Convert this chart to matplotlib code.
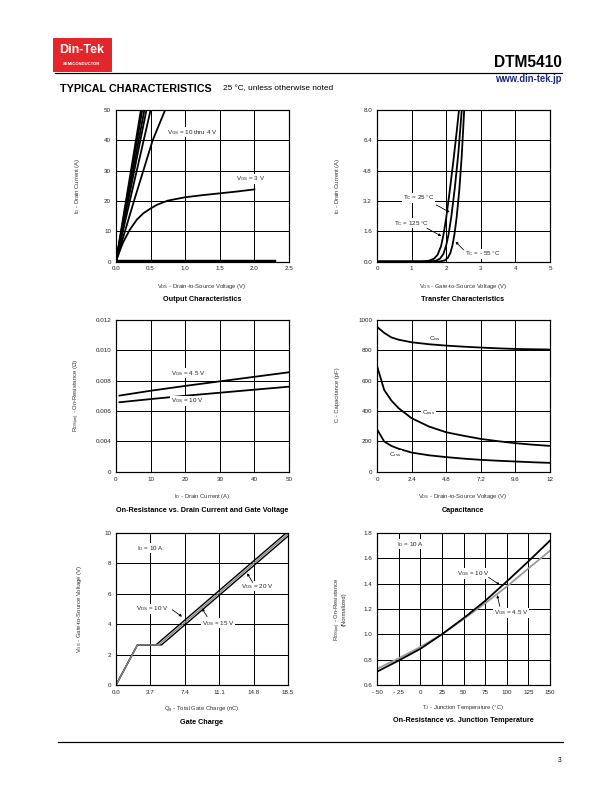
import numpy as np
import matplotlib
matplotlib.use('Agg')
import matplotlib.pyplot as plt
from matplotlib.patches import Rectangle
from matplotlib.lines import Line2D

plt.rcParams['font.family'] = ['Liberation Sans', 'DejaVu Sans']
plt.rcParams['mathtext.fontset'] = 'custom'
plt.rcParams['mathtext.rm'] = 'Liberation Sans'
plt.rcParams['mathtext.it'] = 'Liberation Sans:italic'
plt.rcParams['mathtext.bf'] = 'Liberation Sans:bold'

# Output characteristics
out_steep_vds = [0.36, 0.38, 0.41, 0.44, 0.50]   # V at which each line hits 50 A
out_steep_id = [0, 50]
out_4v_vds = [0, 0.26, 0.53, 0.71]
out_4v_id = [0, 20, 40, 50]
out_3v_vds = [0, 0.05, 0.1, 0.2, 0.3, 0.4, 0.5, 0.6, 0.75, 1.0, 1.25, 1.5, 1.75, 2.0]
out_3v_id = [0, 3.2, 6.2, 10.5, 13.8, 16.0, 17.5, 18.8, 20.1, 21.2, 21.9, 22.5, 23.1, 23.8]
out_2v_vds = [0, 2.3]
out_2v_id = [0.3, 0.3]

# Transfer characteristics
tr_125_vgs = [0, 1.3, 1.5, 1.65, 1.75, 1.85, 1.92, 2.0, 2.1, 2.2, 2.3, 2.37]
tr_125_id = [0, 0, 0.04, 0.15, 0.35, 0.8, 1.4, 2.3, 3.7, 5.2, 6.8, 8.0]
tr_25_vgs = [0, 1.55, 1.7, 1.82, 1.92, 2.0, 2.07, 2.15, 2.25, 2.35, 2.45]
tr_25_id = [0, 0, 0.04, 0.15, 0.4, 0.85, 1.45, 2.4, 3.9, 5.7, 8.0]
tr_m55_vgs = [0, 1.8, 1.95, 2.05, 2.12, 2.18, 2.24, 2.3, 2.38, 2.45, 2.52]
tr_m55_id = [0, 0, 0.05, 0.2, 0.45, 0.85, 1.45, 2.3, 3.8, 5.6, 8.0]

# On-resistance vs drain current
ron_id = [1, 10, 20, 30, 40, 50]
ron_45v = [0.00701, 0.00733, 0.00765, 0.00795, 0.00825, 0.00855]
ron_10v = [0.00657, 0.00678, 0.00700, 0.00720, 0.00740, 0.00760]
ron_ticks = [0.002, 0.004, 0.006, 0.008, 0.010, 0.012]
ron_ticklabels = ['0', '0.004', '0.006', '0.008', '0.010', '0.012']

# Capacitance
cap_vds = [0, 0.5, 1, 1.5, 2.4, 3.6, 4.8, 6, 7.2, 8.4, 9.6, 10.8, 12]
ciss = [955, 915, 885, 870, 853, 840, 831, 824, 818, 813, 809, 807, 805]
coss = [697, 538, 468, 418, 352, 297, 259, 236, 215, 200, 187, 177, 169]
crss = [279, 198, 169, 150, 125, 107, 95, 85, 77, 71, 66, 61, 57]

# Gate charge
qg_10v = [0, 2.31, 4.3, 18.3]
qg_15v = [0, 2.31, 4.6, 18.6]
qg_20v = [0, 2.31, 4.9, 18.9]
vgs_qg = [0, 2.64, 2.64, 10.0]

# On-resistance vs junction temperature
tj = [-50, -25, 0, 25, 50, 75, 100, 125, 150]
rn_10v = [0.705, 0.793, 0.885, 1.0, 1.127, 1.264, 1.417, 1.576, 1.74]
rn_45v = [0.727, 0.81, 0.90, 1.0, 1.12, 1.245, 1.377, 1.52, 1.66]
tj_ticklabels = ['- 50', '- 25', '0', '25', '50', '75', '100', '125', '150']

W, H = 612, 792
fig = plt.figure(figsize=(W / 72, H / 72), dpi=72)


def px_axes(left, top, right, bottom):
    ax = fig.add_axes([left / W, 1 - bottom / H, (right - left) / W, (bottom - top) / H])
    ax.grid(True, color='black', lw=1.0)
    ax.set_axisbelow(True)
    for s in ax.spines.values():
        s.set_linewidth(1.2)
    ax.tick_params(length=0, pad=5, labelsize=6.3, labelcolor='#222222')
    return ax


def ftext(x, y, s, **kw):
    kw.setdefault('ha', 'center')
    kw.setdefault('va', 'center')
    return fig.text(x / W, 1 - y / H, s, **kw)


def label(ax, x, y, s, **kw):
    kw.setdefault('ha', 'left')
    kw.setdefault('va', 'center')
    ax.text(x, y, s, fontsize=6.2, color='#222222',
            bbox=dict(facecolor='white', edgecolor='none', pad=0.6), **kw)


def arrow(ax, tail, head):
    ax.annotate('', xy=head, xytext=tail,
                arrowprops=dict(arrowstyle='-|>', lw=0.8, color='black',
                                mutation_scale=5, shrinkA=0, shrinkB=0))


lw = 1.8
axlab = dict(fontsize=5.9, color='#333333')
ttl = dict(fontsize=7.2, fontweight='bold')

# ---- header ----
fig.patches.append(Rectangle((53 / W, 1 - 71 / H), 58 / W, 33 / H,
                             transform=fig.transFigure, color='#e3262b'))
ftext(82, 50, 'Din-Tek', color='white', fontsize=12.5, fontweight='bold')
ftext(82, 64, 'SEMICONDUCTOR', color='white', fontsize=4.3, fontweight='bold')
fig.lines.append(Line2D([55 / W, 562 / W], [1 - 72.5 / H, 1 - 72.5 / H],
                        transform=fig.transFigure, color='black', lw=1.2))
ftext(562, 67, 'DTM5410', ha='right', va='baseline', fontsize=15.5, fontweight='bold')
ftext(562, 79, 'www.din-tek.jp', ha='right', fontsize=9.5, fontweight='bold', color='#1c2a80')
ftext(60, 89, 'TYPICAL CHARACTERISTICS', ha='left', fontsize=10.8, fontweight='heavy')
ftext(223, 89, '25 °C, unless otherwise noted', ha='left', fontsize=8.2)

# ---- footer ----
fig.lines.append(Line2D([58 / W, 563 / W], [1 - 741.5 / H, 1 - 741.5 / H],
                        transform=fig.transFigure, color='black', lw=1.2))
ftext(560, 760, '3', fontsize=6.5)

# ---- Output characteristics ----
ax = px_axes(116, 110, 289, 261.5)
for v in out_steep_vds:
    ax.plot([0, v], out_steep_id, color='black', lw=lw)
ax.plot(out_4v_vds, out_4v_id, color='black', lw=lw)
ax.plot(out_3v_vds, out_3v_id, color='black', lw=lw)
ax.plot(out_2v_vds, out_2v_id, color='black', lw=2.4)
ax.set_xlim(0, 2.5)
ax.set_ylim(0, 50)
ax.set_xticks([0, 0.5, 1.0, 1.5, 2.0, 2.5])
ax.set_xticklabels(['0.0', '0.5', '1.0', '1.5', '2.0', '2.5'])
ax.set_yticks([0, 10, 20, 30, 40, 50])
label(ax, 0.74, 42.6, r'V$_{\mathrm{GS}}$ = 10 thru 4 V')
label(ax, 1.74, 27.3, r'V$_{\mathrm{GS}}$ = 3 V')
ftext(202, 286, r'V$_{\mathrm{DS}}$ - Drain-to-Source Voltage (V)', **axlab)
ftext(202, 299, 'Output Characteristics', **ttl)
ftext(77, 186, r'I$_{\mathrm{D}}$ - Drain Current (A)', rotation=90, **axlab)

# ---- Transfer characteristics ----
ax = px_axes(377, 110, 550, 261.5)
ax.plot(tr_125_vgs, tr_125_id, color='black', lw=lw)
ax.plot(tr_25_vgs, tr_25_id, color='black', lw=lw)
ax.plot(tr_m55_vgs, tr_m55_id, color='black', lw=lw)
ax.set_xlim(0, 5)
ax.set_ylim(0, 8)
ax.set_xticks([0, 1, 2, 3, 4, 5])
ax.set_yticks([0, 1.6, 3.2, 4.8, 6.4, 8.0])
ax.set_yticklabels(['0.0', '1.6', '3.2', '4.8', '6.4', '8.0'])
label(ax, 0.75, 3.37, r'T$_{\mathrm{C}}$ = 25 °C')
arrow(ax, (1.71, 2.99), (2.1, 2.6))
label(ax, 0.48, 2.02, r'T$_{\mathrm{C}}$ = 125 °C')
arrow(ax, (1.44, 1.76), (1.86, 1.34))
label(ax, 2.55, 0.4, r'T$_{\mathrm{C}}$ = - 55 °C')
arrow(ax, (2.5, 0.62), (2.27, 1.05))
ftext(463, 286, r'V$_{\mathrm{GS}}$ - Gate-to-Source Voltage (V)', **axlab)
ftext(463, 299, 'Transfer Characteristics', **ttl)
ftext(337, 186, r'I$_{\mathrm{D}}$ - Drain Current (A)', rotation=90, **axlab)

# ---- On-resistance vs drain current ----
ax = px_axes(116, 320, 289, 471.5)
ax.plot(ron_id, ron_45v, color='black', lw=lw)
ax.plot(ron_id, ron_10v, color='black', lw=lw)
ax.set_xlim(0, 50)
ax.set_ylim(0.002, 0.012)
ax.set_xticks([0, 10, 20, 30, 40, 50])
ax.set_yticks(ron_ticks)
ax.set_yticklabels(ron_ticklabels)
label(ax, 15.9, 0.00848, r'V$_{\mathrm{GS}}$ = 4.5 V')
label(ax, 15.9, 0.00668, r'V$_{\mathrm{GS}}$ = 10 V')
ftext(202, 497, r'I$_{\mathrm{D}}$ - Drain Current (A)', **axlab)
ftext(202, 510, 'On-Resistance vs. Drain Current and Gate Voltage', **ttl)
ftext(77, 395, r'R$_{\mathrm{DS(on)}}$ - On-Resistance (Ω)', rotation=90, **axlab)

# ---- Capacitance ----
ax = px_axes(377, 320, 550, 471.5)
ax.plot(cap_vds, ciss, color='black', lw=lw)
ax.plot(cap_vds, coss, color='black', lw=lw)
ax.plot(cap_vds, crss, color='black', lw=lw)
ax.set_xlim(0, 12)
ax.set_ylim(0, 1000)
ax.set_xticks([0, 2.4, 4.8, 7.2, 9.6, 12])
ax.set_xticklabels(['0', '2.4', '4.8', '7.2', '9.6', '12'])
ax.set_yticks([0, 200, 400, 600, 800, 1000])
label(ax, 3.6, 880, r'C$_{\mathrm{iss}}$')
label(ax, 3.1, 389, r'C$_{\mathrm{oss}}$')
label(ax, 0.85, 110, r'C$_{\mathrm{rss}}$')
ftext(463, 497, r'V$_{\mathrm{DS}}$ - Drain-to-Source Voltage (V)', **axlab)
ftext(463, 510, 'Capacitance', **ttl)
ftext(337, 395, 'C - Capacitance (pF)', rotation=90, **axlab)

# ---- Gate charge ----
ax = px_axes(116, 533, 288, 685)
ax.plot(qg_10v, vgs_qg, color='black', lw=1.4)
ax.plot(qg_20v, vgs_qg, color='black', lw=1.4)
ax.plot(qg_15v, vgs_qg, color='#888888', lw=1.4)
ax.set_xlim(0, 18.5)
ax.set_ylim(0, 10)
ax.set_xticks([0, 3.7, 7.4, 11.1, 14.8, 18.5])
ax.set_xticklabels(['0.0', '3.7', '7.4', '11.1', '14.8', '18.5'])
ax.set_yticks([0, 2, 4, 6, 8, 10])
label(ax, 2.3, 9.0, r'I$_{\mathrm{D}}$ = 10 A')
label(ax, 13.4, 6.5, r'V$_{\mathrm{DS}}$ = 20 V')
arrow(ax, (14.7, 6.75), (14.1, 7.35))
label(ax, 2.1, 5.0, r'V$_{\mathrm{DS}}$ = 10 V')
arrow(ax, (6.05, 4.95), (7.1, 4.5))
label(ax, 9.2, 4.07, r'V$_{\mathrm{DS}}$ = 15 V')
arrow(ax, (9.8, 4.5), (9.25, 5.05))
ftext(202, 710, r'Q$_{\mathrm{g}}$ - Total Gate Charge (nC)', **axlab)
ftext(202, 722, 'Gate Charge', **ttl)
ftext(80, 609, r'V$_{\mathrm{GS}}$ - Gate-to-Source Voltage (V)', rotation=90, **axlab)

# ---- On-resistance vs junction temperature ----
ax = px_axes(377, 533, 550, 685)
ax.plot(tj, rn_45v, color='#999999', lw=lw)
ax.plot(tj, rn_10v, color='black', lw=lw)
ax.set_xlim(-50, 150)
ax.set_ylim(0.6, 1.8)
ax.set_xticks(tj)
ax.set_xticklabels(tj_ticklabels)
ax.set_yticks([0.6, 0.8, 1.0, 1.2, 1.4, 1.6, 1.8])
label(ax, -27, 1.71, r'I$_{\mathrm{D}}$ = 10 A')
label(ax, 42, 1.48, r'V$_{\mathrm{GS}}$ = 10 V')
arrow(ax, (79, 1.45), (92, 1.39))
label(ax, 85, 1.17, r'V$_{\mathrm{GS}}$ = 4.5 V')
arrow(ax, (92, 1.22), (89, 1.31))
ftext(463, 708, r'T$_{\mathrm{J}}$ - Junction Temperature (°C)', **axlab)
ftext(463, 720, 'On-Resistance vs. Junction Temperature', **ttl)
ftext(338, 609, r'R$_{\mathrm{DS(on)}}$ - On-Resistance', rotation=90, **axlab)
ftext(344.5, 609, '(Normalized)', rotation=90, **axlab)

fig.savefig('out.png', dpi=72)
